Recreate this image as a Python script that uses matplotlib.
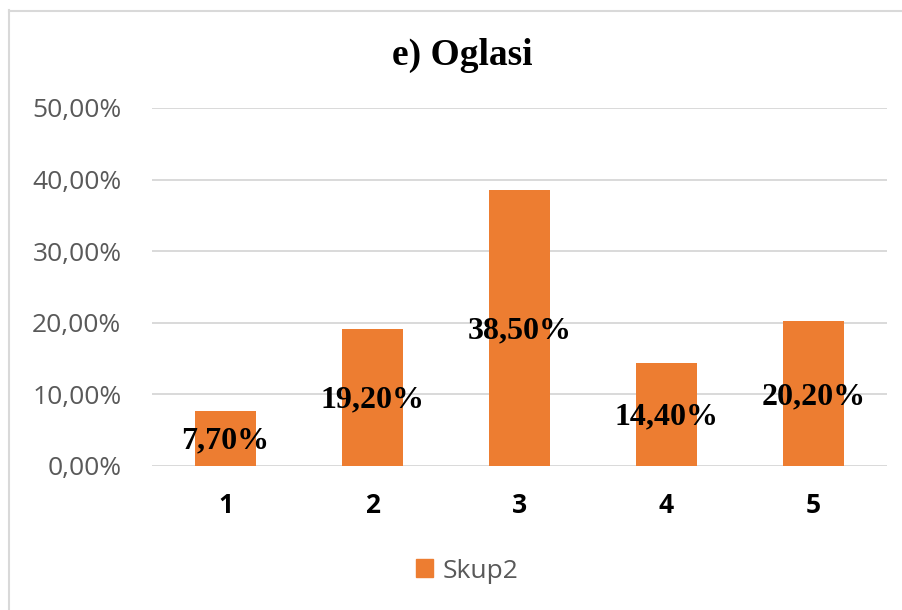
import matplotlib
matplotlib.use("Agg")
import matplotlib.pyplot as plt
from matplotlib.lines import Line2D
from matplotlib.patches import Patch

categories = ["1", "2", "3", "4", "5"]
values = [0.077, 0.192, 0.385, 0.144, 0.202]
labels = ["7,70%", "19,20%", "38,50%", "14,40%", "20,20%"]
yticks = [0.0, 0.1, 0.2, 0.3, 0.4, 0.5]
ytick_labels = ["0,00%", "10,00%", "20,00%", "30,00%", "40,00%", "50,00%"]
series_name = "Skup2"
title = "e) Oglasi"

W, H = 903, 610
fig = plt.figure(figsize=(W / 100, H / 100), dpi=100)
ax = fig.add_axes([152 / W, 1 - 466 / H, (887 - 152) / W, (466 - 108) / H])

orange = "#ED7D31"
grid = "#D9D9D9"
gray = "#595959"

x = list(range(len(categories)))
ax.bar(x, values, width=0.41, color=orange, zorder=3)
ax.set_xlim(-0.5, len(categories) - 0.5)
ax.set_ylim(0, 0.5)
ax.set_yticks(yticks)
ax.set_yticklabels(ytick_labels, family="Open Sans", fontsize=19, color=gray)
ax.set_xticks(x)
ax.set_xticklabels(categories, family="Open Sans", fontsize=19, fontweight="bold", color="#000000")
ax.tick_params(axis="y", length=0, pad=22)
ax.tick_params(axis="x", length=0, pad=19)
for s in ax.spines.values():
    s.set_visible(False)
ax.yaxis.grid(True, color=grid, linewidth=1.4, zorder=0)
ax.set_axisbelow(True)

for xi, v, lab in zip(x, values, labels):
    ax.annotate(lab, (xi, v / 2), xytext=(0, -2), textcoords="offset points",
                ha="center", va="center", family="Liberation Serif",
                fontweight="bold", fontsize=23, color="#000000", zorder=4)

fig.text(462 / W, 1 - 55 / H, title, ha="center", va="center", family="Liberation Serif",
         fontweight="bold", fontsize=27, color="#000000")

# legend
leg_handle = Patch(facecolor=orange, edgecolor=orange)
fig.legend([leg_handle], [series_name], loc="center", bbox_to_anchor=(467 / W, 1 - 571 / H),
           frameon=False, prop={"family": "Open Sans", "size": 19},
           handlelength=0.65, handleheight=0.65, handletextpad=0.35, labelcolor=gray)

# chart border (left and top visible)
fig.add_artist(Line2D([9.5 / W, 9.5 / W], [0, 1 - 10 / H], transform=fig.transFigure, color=grid, linewidth=1.5))
fig.add_artist(Line2D([9.5 / W, 1], [1 - 10.5 / H, 1 - 10.5 / H], transform=fig.transFigure, color=grid, linewidth=1.5))

fig.savefig("out.png", dpi=100, facecolor="white")
